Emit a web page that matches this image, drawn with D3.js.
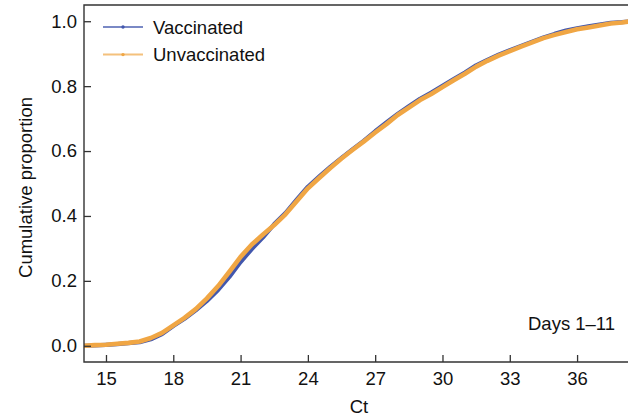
<!DOCTYPE html>
<html>
<head>
<meta charset="utf-8">
<script src="https://cdn.jsdelivr.net/npm/d3@7"></script>
<style>
  html, body { margin: 0; padding: 0; background: #fff; }
  svg { display: block; font-family: "Liberation Sans", Arial, Helvetica, sans-serif; }
</style>
</head>
<body>
<svg id="chart" width="628" height="418"></svg>
<script>
// Cumulative distribution of Ct values, days 1–11
const ctValues = [14.0, 14.5, 15.0, 15.5, 16.0, 16.5, 17.0, 17.5, 18.0, 18.5,
                  19.0, 19.5, 20.0, 20.5, 21.0, 21.5, 22.0, 22.5, 23.0, 23.5,
                  24.0, 24.5, 25.0, 25.5, 26.0, 26.5, 27.0, 27.5, 28.0, 28.5,
                  29.0, 29.5, 30.0, 30.5, 31.0, 31.5, 32.0, 32.5, 33.0, 33.5,
                  34.0, 34.5, 35.0, 35.5, 36.0, 36.5, 37.0, 37.5, 38.0, 38.3];

const vaccinated = [0.000, 0.001, 0.003, 0.005, 0.008, 0.011, 0.020, 0.036, 0.061, 0.083,
                    0.109, 0.138, 0.172, 0.212, 0.258, 0.298, 0.334, 0.375, 0.409, 0.450,
                    0.490, 0.521, 0.551, 0.579, 0.606, 0.632, 0.661, 0.688, 0.714, 0.738,
                    0.761, 0.780, 0.801, 0.822, 0.842, 0.864, 0.881, 0.897, 0.911, 0.924,
                    0.937, 0.950, 0.961, 0.971, 0.978, 0.984, 0.990, 0.995, 0.997, 0.999];

const unvaccinated = [0.000, 0.002, 0.003, 0.006, 0.009, 0.013, 0.024, 0.040, 0.063, 0.086,
                      0.113, 0.146, 0.184, 0.228, 0.274, 0.312, 0.343, 0.372, 0.405, 0.445,
                      0.485, 0.517, 0.548, 0.577, 0.604, 0.630, 0.657, 0.683, 0.711, 0.734,
                      0.757, 0.776, 0.797, 0.818, 0.838, 0.860, 0.878, 0.894, 0.908, 0.922,
                      0.935, 0.948, 0.958, 0.967, 0.975, 0.981, 0.987, 0.993, 0.996, 0.999];

const xTicks = [15, 18, 21, 24, 27, 30, 33, 36];
const yTicks = [0.0, 0.2, 0.4, 0.6, 0.8, 1.0];
const seriesNames = ["Vaccinated", "Unvaccinated"];
const seriesColors = ["#4257ad", "#f0a644"];

const svg = d3.select("#chart");
const plotLeft = 84, plotRight = 628, plotTop = 5, plotBottom = 362;
const fontSize = 18.5;

const x = d3.scaleLinear().domain([14.02, 38.27]).range([plotLeft, plotRight]);
const y = d3.scaleLinear().domain([-0.05, 1.05]).range([plotBottom, plotTop]);

svg.append("defs").append("clipPath").attr("id", "plot-clip")
  .append("rect").attr("x", plotLeft).attr("y", plotTop)
  .attr("width", plotRight - plotLeft).attr("height", plotBottom - plotTop);

// Curves: vaccinated underneath, unvaccinated on top
const line = d3.line().x(d => x(d[0])).y(d => y(d[1]));
const series = [vaccinated, unvaccinated];
const widths = [4.2, 4.6];
const plot = svg.append("g").attr("clip-path", "url(#plot-clip)");
series.forEach((vals, i) => {
  plot.append("path")
    .datum(ctValues.map((c, j) => [c, vals[j]]))
    .attr("fill", "none")
    .attr("stroke", seriesColors[i])
    .attr("stroke-width", widths[i])
    .attr("stroke-linejoin", "round")
    .attr("stroke-linecap", "round")
    .attr("d", line);
});

// Axes with inward ticks
const axisColor = "#333";
const xAxis = svg.append("g").attr("transform", `translate(0,${plotBottom})`)
  .call(d3.axisBottom(x).tickValues(xTicks).tickSize(-7).tickPadding(10).tickFormat(d3.format("d")));
const yAxis = svg.append("g").attr("transform", `translate(${plotLeft},0)`)
  .call(d3.axisLeft(y).tickValues(yTicks).tickSize(-7).tickPadding(7).tickFormat(d3.format(".1f")));

[xAxis, yAxis].forEach(g => {
  g.select(".domain").remove();
  g.selectAll(".tick line").attr("stroke", axisColor).attr("stroke-width", 1.3);
  g.selectAll(".tick text").attr("fill", "#111").style("font-size", fontSize + "px")
    .style("font-family", "'Liberation Sans', Arial, sans-serif");
});

// Frame: left, top, bottom
svg.append("path")
  .attr("d", `M${plotRight},${plotTop}H${plotLeft}V${plotBottom}H${plotRight}`)
  .attr("fill", "none").attr("stroke", axisColor).attr("stroke-width", 1.4);

// Axis titles
svg.append("text")
  .attr("x", 359).attr("y", 412.5)
  .attr("text-anchor", "middle")
  .style("font-size", fontSize + "px").attr("fill", "#111")
  .text("Ct");

svg.append("text")
  .attr("transform", `translate(32,${(plotTop + plotBottom) / 2 + 4}) rotate(-90)`)
  .attr("text-anchor", "middle")
  .style("font-size", fontSize + "px").attr("fill", "#111")
  .text("Cumulative proportion");

// Panel annotation
svg.append("text")
  .attr("x", 528).attr("y", 329.5)
  .style("font-size", fontSize + "px").attr("fill", "#111")
  .text("Days 1\u201311");

// Legend
const legend = svg.append("g");
seriesNames.forEach((name, i) => {
  const ly = 27 + i * 27.6;
  legend.append("line")
    .attr("x1", 103).attr("x2", 143).attr("y1", ly).attr("y2", ly)
    .attr("stroke", seriesColors[i]).attr("stroke-width", 2).attr("stroke-opacity", 0.7);
  legend.append("circle")
    .attr("cx", 123).attr("cy", ly).attr("r", 1.7)
    .attr("fill", seriesColors[i]);
  legend.append("text")
    .attr("x", 153).attr("y", ly + 6.5)
    .style("font-size", fontSize + "px").attr("fill", "#111")
    .text(name);
});
</script>
</body>
</html>
